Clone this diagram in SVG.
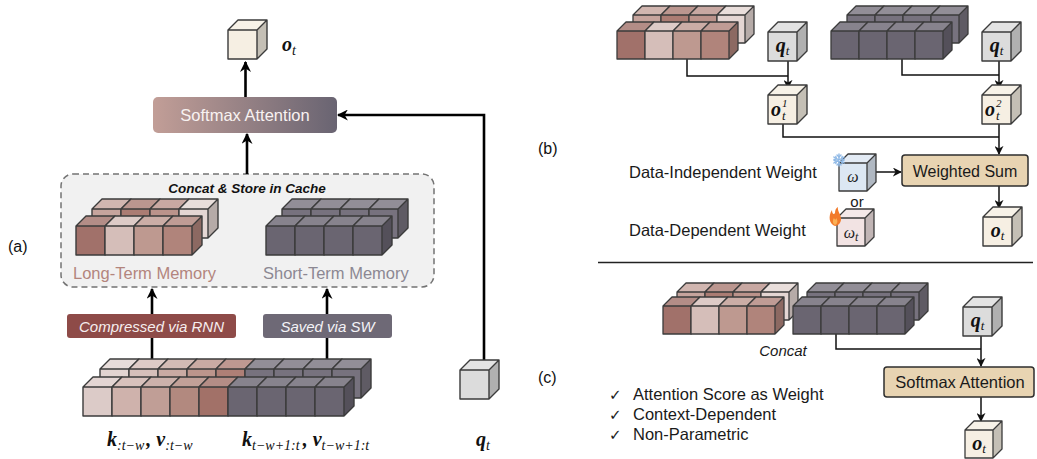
<svg xmlns="http://www.w3.org/2000/svg" xmlns:xlink="http://www.w3.org/1999/xlink" width="1037" height="459" viewBox="0 0 1037 459">
<style>
.sans{font-family:"Liberation Sans",Arial,sans-serif}
.m{font-family:"Liberation Serif","Times New Roman",serif;font-weight:bold;font-style:italic;fill:#111}
.sub{font-weight:normal;font-style:italic}
.thick{stroke:#000;stroke-width:2.6;fill:none}
.thin{stroke:#111;stroke-width:1.5;fill:none}
</style>
<defs>
<linearGradient id="sg" x1="0" y1="0" x2="1" y2="0">
<stop offset="0" stop-color="#c29e97"/><stop offset="1" stop-color="#696472"/>
</linearGradient>
<marker id="ah" viewBox="0 0 10 10" refX="9" refY="5" markerWidth="11" markerHeight="11" markerUnits="userSpaceOnUse" orient="auto"><path d="M0,0 L10,5 L0,10 L3,5Z" fill="#000"/></marker>
<marker id="at" viewBox="0 0 10 10" refX="9" refY="5" markerWidth="9" markerHeight="9" markerUnits="userSpaceOnUse" orient="auto"><path d="M0,0 L10,5 L0,10 L3,5Z" fill="#111"/></marker>
<g id="c">
<rect width="29" height="29" stroke="none"/>
<path d="M0,0 L10,-10 L39,-10 L29,0Z" stroke="none"/>
<path d="M29,0 L39,-10 L39,19 L29,29Z" stroke="none"/>
<path d="M0,0 L10,-10 L39,-10 L29,0Z" fill="#fff" fill-opacity=".2"/>
<path d="M29,0 L39,-10 L39,19 L29,29Z" fill="#000" fill-opacity=".2"/>
<path d="M0,0H29V29H0Z M0,0 L10,-10 L39,-10 L39,19 L29,29 M29,0 L39,-10" fill="none" stroke="#3b3b3b" stroke-width="1.4" stroke-linejoin="round"/>
</g>
<g id="k">
<rect width="28" height="28" stroke="none"/>
<path d="M0,0 L9,-9 L37,-9 L28,0Z" stroke="none"/>
<path d="M28,0 L37,-9 L37,19 L28,28Z" stroke="none"/>
<path d="M0,0 L9,-9 L37,-9 L28,0Z" fill="#fff" fill-opacity=".2"/>
<path d="M28,0 L37,-9 L37,19 L28,28Z" fill="#000" fill-opacity=".2"/>
<path d="M0,0H28V28H0Z M0,0 L9,-9 L37,-9 L37,19 L28,28 M28,0 L37,-9" fill="none" stroke="#3b3b3b" stroke-width="1.3" stroke-linejoin="round"/>
</g>
</defs>
<rect width="1037" height="459" fill="#fff"/>

<!-- panel labels -->
<text class="sans" x="8" y="252" font-size="16" fill="#111">(a)</text>
<text class="sans" x="538" y="154" font-size="16" fill="#111">(b)</text>
<text class="sans" x="538" y="383" font-size="16" fill="#111">(c)</text>

<!-- (a) cache box -->
<g id="cache">
<rect x="61" y="174" width="373" height="113" rx="12" fill="#f1f1f1" stroke="#737373" stroke-width="1.5" stroke-dasharray="6 4"/>
<text class="sans" x="247" y="193" font-size="13.5" font-weight="bold" font-style="italic" text-anchor="middle" fill="#111">Concat &amp; Store in Cache</text>
</g>

<!-- connectors -->
<g id="connectors">
<path class="thick" d="M245.5,97 V62" marker-end="url(#ah)"/>
<path class="thick" d="M247,174 V134" marker-end="url(#ah)"/>
<path class="thick" d="M484,360 V115 H338" marker-end="url(#ah)"/>
<path class="thick" d="M152,360 V289" marker-end="url(#ah)"/>
<path class="thick" d="M327,360 V289" marker-end="url(#ah)"/>
<path class="thin" d="M687,59 V76 H788"/>
<path class="thin" d="M788,61 V88" marker-end="url(#at)"/>
<path class="thin" d="M783,124 V137 H999"/>
<path class="thin" d="M902,59 V75 H999"/>
<path class="thin" d="M999,61 V88" marker-end="url(#at)"/>
<path class="thin" d="M999,124 V154" marker-end="url(#at)"/>
<path class="thin" d="M873,172 H901" marker-end="url(#at)"/>
<path class="thin" d="M999,186 V208" marker-end="url(#at)"/>
<path class="thin" d="M836,334 V349 H981"/>
<path class="thin" d="M981,336 V366" marker-end="url(#at)"/>
<path class="thin" d="M981,397 V421" marker-end="url(#at)"/>
</g>

<!-- (a) output -->
<g id="a-ot">
<use href="#c" x="228" y="30" fill="#f6efe3"/>
<text class="m" x="282" y="51" font-size="20">o<tspan class="sub" font-size="14" dy="4">t</tspan></text>
</g>

<g id="a-softmax">
<rect x="153" y="97" width="184" height="36" rx="5" fill="url(#sg)"/>
<text class="sans" x="245" y="121" font-size="16.5" text-anchor="middle" fill="#f8f2f1">Softmax Attention</text>
</g>

<!-- (a) long-term memory -->
<g id="a-long">
<use href="#c" x="92" y="209" fill="#c6a49d"/>
<use href="#c" x="121" y="209" fill="#ab7c73"/>
<use href="#c" x="150" y="209" fill="#bb938b"/>
<use href="#c" x="179" y="209" fill="#e4d6d3"/>
<use href="#c" x="76" y="226" fill="#a1716a"/>
<use href="#c" x="105" y="226" fill="#d5beb9"/>
<use href="#c" x="134" y="226" fill="#be9990"/>
<use href="#c" x="163" y="226" fill="#b0847b"/>
<text class="sans" x="73" y="279" font-size="16.5" fill="#b3857d">Long-Term Memory</text>
</g>

<!-- (a) short-term memory -->
<g id="a-short">
<use href="#c" x="282" y="209" fill="#77727e"/>
<use href="#c" x="311" y="209" fill="#77727e"/>
<use href="#c" x="340" y="209" fill="#77727e"/>
<use href="#c" x="369" y="209" fill="#77727e"/>
<use href="#c" x="266" y="226" fill="#6a6571"/>
<use href="#c" x="295" y="226" fill="#6a6571"/>
<use href="#c" x="324" y="226" fill="#6a6571"/>
<use href="#c" x="353" y="226" fill="#6a6571"/>
<text class="sans" x="263" y="279" font-size="16.5" fill="#8c8893">Short-Term Memory</text>
</g>

<!-- (a) input sequence -->
<g id="a-seq">
<use href="#c" x="100" y="369" fill="#e2d4d1"/>
<use href="#c" x="129" y="369" fill="#d6bfba"/>
<use href="#c" x="158" y="369" fill="#c9aaa3"/>
<use href="#c" x="187" y="369" fill="#bc958c"/>
<use href="#c" x="216" y="369" fill="#ae7f76"/>
<use href="#c" x="245" y="369" fill="#77727e"/>
<use href="#c" x="274" y="369" fill="#77727e"/>
<use href="#c" x="303" y="369" fill="#77727e"/>
<use href="#c" x="332" y="369" fill="#77727e"/>
<use href="#c" x="83" y="387" fill="#dccbc8"/>
<use href="#c" x="112" y="387" fill="#cfb2ac"/>
<use href="#c" x="141" y="387" fill="#c09e96"/>
<use href="#c" x="170" y="387" fill="#b2897f"/>
<use href="#c" x="199" y="387" fill="#a27168"/>
<use href="#c" x="228" y="387" fill="#6a6571"/>
<use href="#c" x="257" y="387" fill="#6a6571"/>
<use href="#c" x="286" y="387" fill="#6a6571"/>
<use href="#c" x="315" y="387" fill="#6a6571"/>
</g>

<g id="a-rnn">
<rect x="67" y="314" width="169" height="24" rx="3" fill="#8e4b48"/>
<text class="sans" x="151.5" y="331.5" font-size="15" font-style="italic" text-anchor="middle" fill="#f6eeee">Compressed via RNN</text>
</g>
<g id="a-sw">
<rect x="263" y="314" width="129" height="24" rx="3" fill="#6e6976"/>
<text class="sans" x="327.5" y="331.5" font-size="15" font-style="italic" text-anchor="middle" fill="#f4f3f6">Saved via SW</text>
</g>

<g id="a-qt">
<use href="#c" x="460" y="370" fill="#dcdcdc"/>
</g>

<g id="a-labels">
<text class="m" x="107" y="446" font-size="20">k<tspan class="sub" font-size="14" dy="4">:t−w</tspan><tspan dy="-4" dx="2">, v</tspan><tspan class="sub" font-size="14" dy="4">:t−w</tspan></text>
<text class="m" x="242" y="446" font-size="20">k<tspan class="sub" font-size="14" dy="4">t−w+1:t</tspan><tspan dy="-4" dx="3">, v</tspan><tspan class="sub" font-size="14" dy="4">t−w+1:t</tspan></text>
<text class="m" x="476" y="446" font-size="20">q<tspan class="sub" font-size="14" dy="4">t</tspan></text>
</g>

<!-- (b) -->
<g id="b-long">
<use href="#k" x="633" y="15" fill="#c6a49d"/>
<use href="#k" x="661" y="15" fill="#ab7c73"/>
<use href="#k" x="689" y="15" fill="#bb938b"/>
<use href="#k" x="717" y="15" fill="#e4d6d3"/>
<use href="#k" x="617" y="31" fill="#a1716a"/>
<use href="#k" x="645" y="31" fill="#d5beb9"/>
<use href="#k" x="673" y="31" fill="#be9990"/>
<use href="#k" x="701" y="31" fill="#b0847b"/>
</g>
<g id="b-short">
<use href="#k" x="847" y="15" fill="#77727e"/>
<use href="#k" x="875" y="15" fill="#77727e"/>
<use href="#k" x="903" y="15" fill="#77727e"/>
<use href="#k" x="931" y="15" fill="#77727e"/>
<use href="#k" x="831" y="31" fill="#6a6571"/>
<use href="#k" x="859" y="31" fill="#6a6571"/>
<use href="#k" x="887" y="31" fill="#6a6571"/>
<use href="#k" x="915" y="31" fill="#6a6571"/>
</g>
<g id="b-q1">
<use href="#c" x="768" y="32" fill="#dcdcdc"/>
<text class="m" x="782.5" y="52" font-size="20" text-anchor="middle">q<tspan class="sub" font-size="13" dy="3">t</tspan></text>
</g>
<g id="b-o1">
<use href="#c" x="768" y="95" fill="#f6efe3"/>
<text class="m" x="771" y="116" font-size="20">o</text>
<text class="m sub" x="782" y="107" font-size="11">1</text>
<text class="m sub" x="782" y="120" font-size="13">t</text>
</g>
<g id="b-q2">
<use href="#c" x="982" y="32" fill="#dcdcdc"/>
<text class="m" x="996.5" y="52" font-size="20" text-anchor="middle">q<tspan class="sub" font-size="13" dy="3">t</tspan></text>
</g>
<g id="b-o2">
<use href="#c" x="982" y="95" fill="#f6efe3"/>
<text class="m" x="985" y="116" font-size="20">o</text>
<text class="m sub" x="996" y="107" font-size="11">2</text>
<text class="m sub" x="996" y="120" font-size="13">t</text>
</g>
<g id="b-wsum">
<rect x="902" y="155" width="126" height="31" rx="3" fill="#e8d4b2" stroke="#2e2e2e" stroke-width="1.5"/>
<text class="sans" x="965" y="176.5" font-size="16" text-anchor="middle" fill="#1a1a1a">Weighted Sum</text>
</g>
<g id="b-omega">
<use href="#k" x="839" y="163" fill="#dce7f3"/>
<text x="853" y="182" font-family="Liberation Serif,serif" font-style="italic" font-size="16" text-anchor="middle" fill="#222">ω</text>
<g stroke="#8fb9e6" stroke-width="1.4" stroke-linecap="round" fill="none">
<path d="M839,154 V166 M833.8,157 L844.2,163 M833.8,163 L844.2,157"/>
<path d="M837,155 L839,157 L841,155 M837,165 L839,163 L841,165 M834,159.5 L836.5,159 L835.8,156.5 M844,160.5 L841.5,161 L842.2,163.5 M834,160.5 L836.5,161 L835.8,163.5 M844,159.5 L841.5,159 L842.2,156.5"/>
</g>
</g>
<text class="sans" x="857" y="207" font-size="15" text-anchor="middle" fill="#1a1a1a">or</text>
<g id="b-omegat">
<use href="#k" x="837" y="218" fill="#f2e3e3"/>
<text x="851" y="238" font-family="Liberation Serif,serif" font-style="italic" font-size="16" text-anchor="middle" fill="#222">ω<tspan font-size="12" dy="3">t</tspan></text>
<path d="M835,226 C829,224 828,216 832,210 C832,214 834,215 835,213 C835,210 836,208 838,207 C837,211 841,214 841,219 C841,223 838,226 835,226Z" fill="#f27a2a"/>
<path d="M835,225 C833,224 832,221 834,218 C835,220 836,220 836,218 C838,220 838,224 835,225Z" fill="#fbb055"/>
</g>
<g id="b-ot">
<use href="#c" x="983" y="217" fill="#f6efe3"/>
<text class="m" x="997.5" y="237" font-size="20" text-anchor="middle">o<tspan class="sub" font-size="13" dy="3">t</tspan></text>
</g>
<text class="sans" x="629" y="178" font-size="16.5" fill="#1a1a1a">Data-Independent Weight</text>
<text class="sans" x="629" y="236" font-size="16.5" fill="#1a1a1a">Data-Dependent Weight</text>

<line x1="598" y1="262.5" x2="1033" y2="262.5" stroke="#222" stroke-width="1.5"/>

<!-- (c) -->
<g id="c-concat">
<use href="#k" x="677" y="292" fill="#c6a49d"/>
<use href="#k" x="705" y="292" fill="#ab7c73"/>
<use href="#k" x="733" y="292" fill="#bb938b"/>
<use href="#k" x="761" y="292" fill="#e4d6d3"/>
<use href="#k" x="663" y="306" fill="#a1716a"/>
<use href="#k" x="691" y="306" fill="#d5beb9"/>
<use href="#k" x="719" y="306" fill="#be9990"/>
<use href="#k" x="747" y="306" fill="#b0847b"/>
<use href="#k" x="807" y="292" fill="#77727e"/>
<use href="#k" x="835" y="292" fill="#77727e"/>
<use href="#k" x="863" y="292" fill="#77727e"/>
<use href="#k" x="891" y="292" fill="#77727e"/>
<use href="#k" x="793" y="306" fill="#6a6571"/>
<use href="#k" x="821" y="306" fill="#6a6571"/>
<use href="#k" x="849" y="306" fill="#6a6571"/>
<use href="#k" x="877" y="306" fill="#6a6571"/>
<text class="sans" x="783" y="356" font-size="15" font-style="italic" text-anchor="middle" fill="#1a1a1a">Concat</text>
</g>
<g id="c-qt">
<use href="#c" x="963" y="307" fill="#dcdcdc"/>
<text class="m" x="977.5" y="327" font-size="20" text-anchor="middle">q<tspan class="sub" font-size="13" dy="3">t</tspan></text>
</g>
<g id="c-softmax">
<rect x="884" y="367" width="150" height="30" rx="3" fill="#e8d4b2" stroke="#2e2e2e" stroke-width="1.5"/>
<text class="sans" x="960" y="388" font-size="16.5" text-anchor="middle" fill="#1a1a1a">Softmax Attention</text>
</g>
<g id="c-ot">
<use href="#k" x="965" y="430" fill="#f6efe3"/>
<text class="m" x="979" y="450" font-size="20" text-anchor="middle">o<tspan class="sub" font-size="13" dy="3">t</tspan></text>
</g>
<g id="c-checks" class="sans" font-size="16.5" fill="#1a1a1a">
<text x="609" y="400" font-family="DejaVu Sans,sans-serif" font-size="15">✓</text>
<text x="633" y="400">Attention Score as Weight</text>
<text x="609" y="420" font-family="DejaVu Sans,sans-serif" font-size="15">✓</text>
<text x="633" y="420">Context-Dependent</text>
<text x="609" y="440" font-family="DejaVu Sans,sans-serif" font-size="15">✓</text>
<text x="633" y="440">Non-Parametric</text>
</g>
</svg>
